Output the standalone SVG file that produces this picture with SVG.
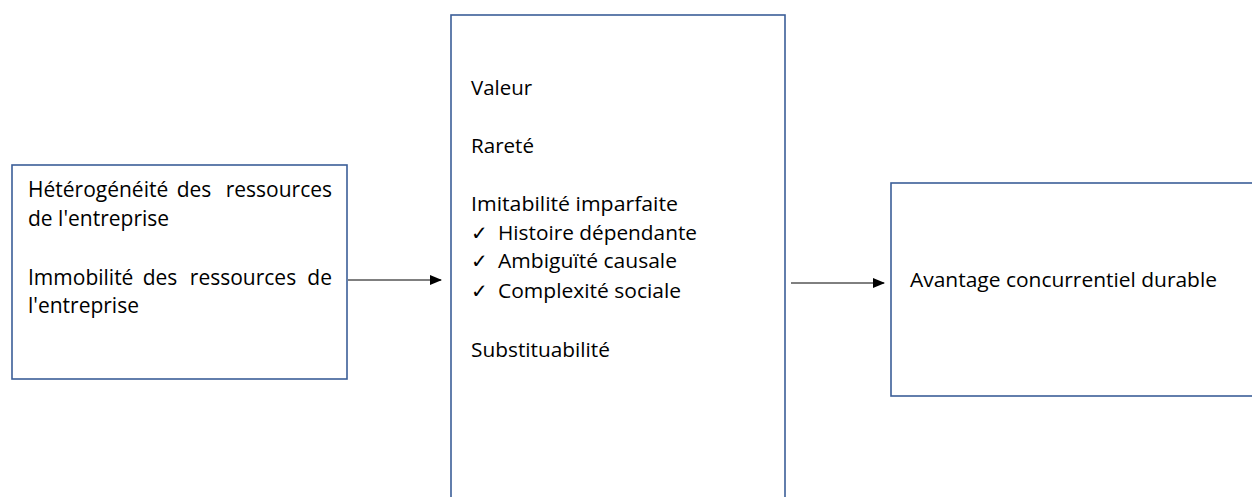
<svg xmlns="http://www.w3.org/2000/svg" width="1252" height="497" viewBox="0 0 1252 497">
<defs>
<style>
.box{fill:#fff;stroke:#3B5E98;stroke-width:1.6}
.t{font-family:"Open Sans","Liberation Sans",sans-serif;font-size:20px;fill:#000}
.b1{font-size:21px}
.m{text-anchor:middle}
.e{text-anchor:end}
.c{stroke:#000;stroke-width:1;fill:none}
</style>
<marker id="ah" markerWidth="12" markerHeight="10" refX="11" refY="5" orient="auto" markerUnits="userSpaceOnUse">
<path d="M0,0 L12,5 L0,10 Z" fill="#000"/>
</marker>
</defs>
<rect width="1252" height="497" fill="#fff"/>
<g id="connectors">
<line class="c" x1="348" y1="280" x2="441" y2="280" marker-end="url(#ah)"/>
<line class="c" x1="791" y1="283" x2="884" y2="283" marker-end="url(#ah)"/>
</g>
<g id="node-ressources">
<rect class="box" x="12" y="165" width="335" height="214"/>
<text class="t b1" x="28" y="197">Hétérogénéité</text>
<text class="t b1 m" x="194" y="197">des</text>
<text class="t b1 e" x="332" y="197">ressources</text>
<text class="t b1" x="28" y="226">de l'entreprise</text>
<text class="t b1" x="28" y="285">Immobilité</text>
<text class="t b1 m" x="160" y="285">des</text>
<text class="t b1 m" x="243" y="285">ressources</text>
<text class="t b1 e" x="332" y="285">de</text>
<text class="t b1" x="28" y="313">l'entreprise</text>
</g>
<g id="node-criteres">
<rect class="box" x="451" y="15" width="334" height="500"/>
<text class="t" x="471" y="95" textLength="61" lengthAdjust="spacingAndGlyphs">Valeur</text>
<text class="t" x="471" y="153" textLength="63" lengthAdjust="spacingAndGlyphs">Rareté</text>
<text class="t" x="471" y="211" textLength="207" lengthAdjust="spacingAndGlyphs">Imitabilité imparfaite</text>
<text class="t" x="471" y="240">✓</text>
<text class="t" x="498" y="240" textLength="199" lengthAdjust="spacingAndGlyphs">Histoire dépendante</text>
<text class="t" x="471" y="268">✓</text>
<text class="t" x="498" y="268" textLength="179" lengthAdjust="spacingAndGlyphs">Ambiguïté causale</text>
<text class="t" x="471" y="298">✓</text>
<text class="t" x="498" y="298" textLength="183" lengthAdjust="spacingAndGlyphs">Complexité sociale</text>
<text class="t" x="471" y="357" textLength="139" lengthAdjust="spacingAndGlyphs">Substituabilité</text>
</g>
<g id="node-avantage">
<rect class="box" x="891" y="183" width="380" height="213"/>
<text class="t" x="910" y="287" textLength="307" lengthAdjust="spacingAndGlyphs">Avantage concurrentiel durable</text>
</g>
</svg>
